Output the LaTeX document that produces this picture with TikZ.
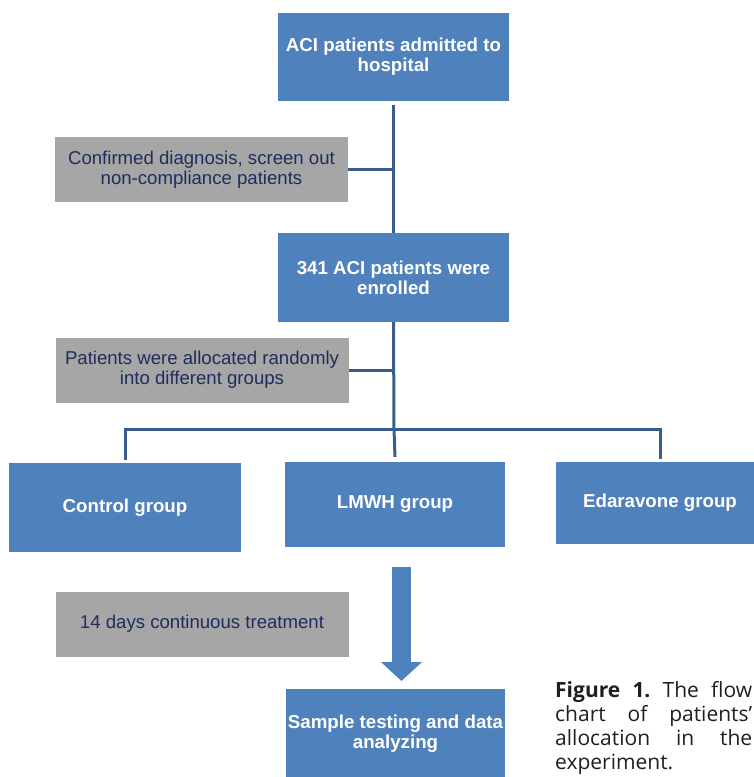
\documentclass[tikz,border=0pt]{standalone}
\usepackage{fontspec}
\setmainfont{Liberation Sans}
\newfontfamily\capfont{Open Sans}
\usetikzlibrary{arrows.meta}
\definecolor{boxblue}{HTML}{4F81BD}
\definecolor{linkblue}{HTML}{3A5E8C}
\definecolor{notegray}{HTML}{A6A6A6}
\definecolor{notetext}{HTML}{1F2D5C}
\begin{document}
\begin{tikzpicture}[x=1pt,y=-1pt,
	every node/.style={inner sep=0pt, align=center},
	stage/.style={fill=boxblue, text=white, font=\fontsize{18.7}{20}\selectfont\bfseries},
	note/.style={fill=notegray, text=notetext, font=\fontsize{18.6}{20}\selectfont,
		minimum width=293pt, minimum height=65pt},
	link/.style={draw=linkblue, line width=3pt}]
	\useasboundingbox (0,0) rectangle (754,777);
	\clip (0,0) rectangle (754,777);

%	main stages
	\node[stage, minimum width=231pt, minimum height=88pt] (adm) at (393.5,57) {ACI patients admitted to\\hospital};
	\node[stage, minimum width=231pt, minimum height=89pt] (enr) at (393.5,277.5) {341 ACI patients were\\enrolled};
	\node[stage, minimum width=232pt, minimum height=89pt] (ctrl) at (125,507.5) {Control group};
	\node[stage, minimum width=220pt, minimum height=85pt] (lmwh) at (395,504.5) {LMWH group};
	\node[stage, minimum width=208pt, minimum height=82pt] (edar) at (660,503) {Edaravone group};
	\node[stage, minimum width=219pt, minimum height=90pt] (sample) at (395.5,734) {Sample testing and data\\analyzing};

%	side notes
	\node[note] (screen) at (201.5,169.5) {Confirmed diagnosis, screen out\\non-compliance patients};
	\node[note] (alloc) at (202,370) {Patients were allocated randomly\\into different groups};
	\node[note] (treat) at (202,624) {14 days continuous treatment};

%	connectors
	\coordinate (split) at (394,429);
	\draw[link] ([yshift=-4pt]adm.south) -- (enr.north);
	\draw[link] (screen.east) -- (screen.east -| adm.south);
	\draw[link] (enr.south) -- (split);
	\draw[link] (alloc.east) -- (alloc.east -| enr.south);
	\draw[link] ([yshift=3pt]ctrl.north) |- (split) -| ([yshift=3pt]edar.north);
	\draw[link] (split) -- ([yshift=5pt]lmwh.north);

%	big arrow
	\coordinate (arrtop) at (401.5,567);
	\coordinate (arrtip) at (401.5,681);
	\draw[boxblue, line width=19pt, -{Triangle[width=40pt,length=19pt]}] (arrtop) -- (arrtip);

%	caption
	\node[anchor=north west, text width=197pt, align=justify, text=black!88,
		font=\capfont\fontsize{21}{24}\selectfont\frenchspacing] (cap) at (555,681)
		{\textbf{Figure 1.} The flow\linebreak chart of patients’\linebreak allocation in the\linebreak experiment.};
\end{tikzpicture}
\end{document}
